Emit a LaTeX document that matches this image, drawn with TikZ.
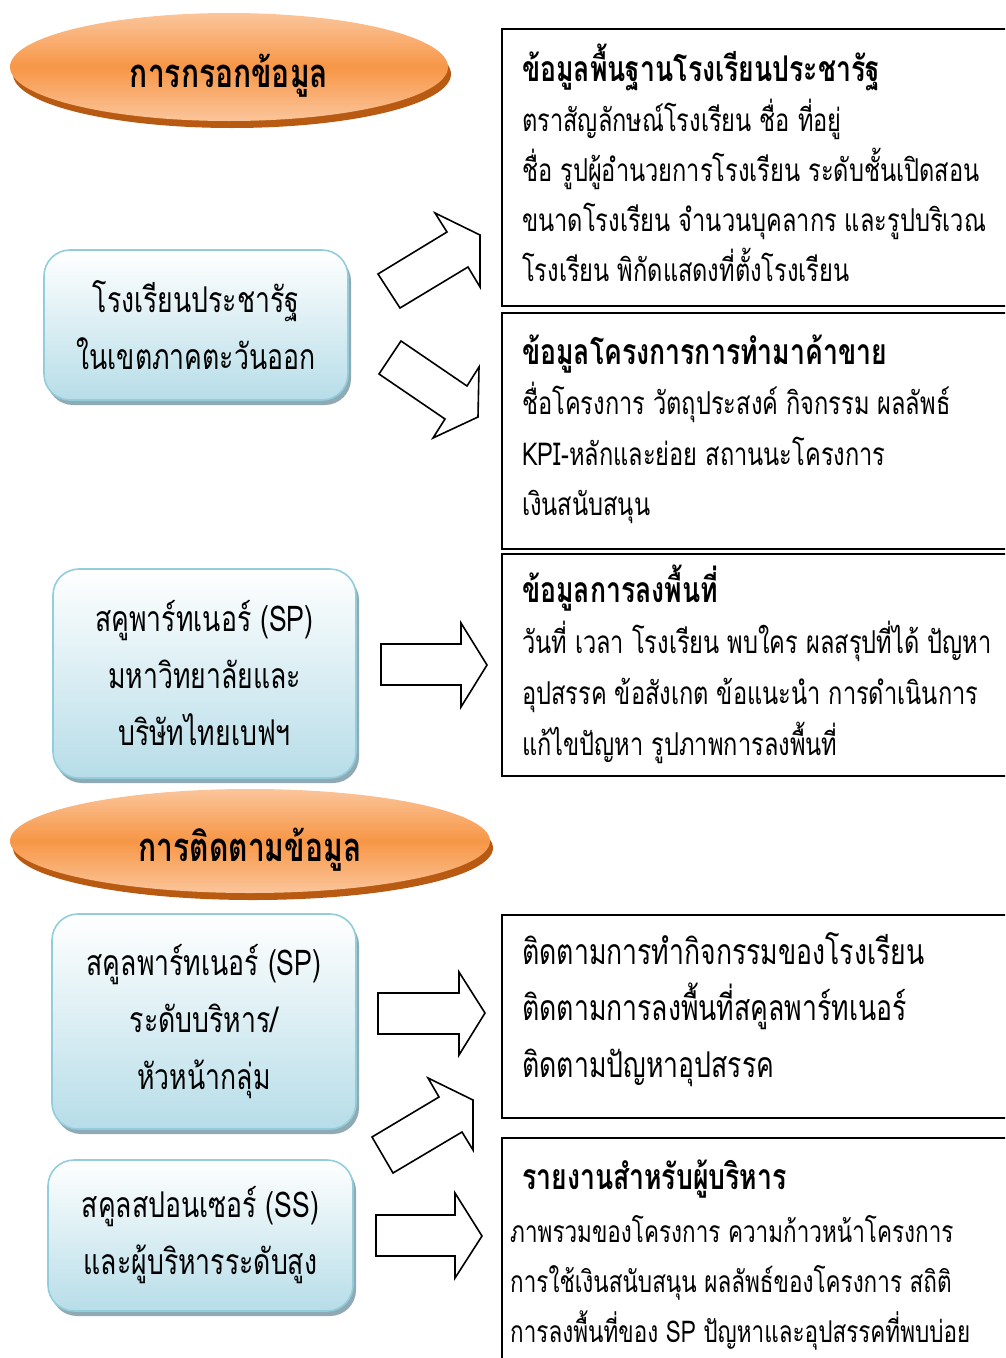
\documentclass[tikz,border=0pt]{standalone}
\usepackage{fontspec}
\setmainfont[Script=Thai,FakeStretch=0.75]{Loma}
\usetikzlibrary{shapes.geometric}
\definecolor{orangemid}{HTML}{F79646}
\definecolor{orangelight}{HTML}{FBC59B}
\definecolor{orangerim}{HTML}{B85A12}
\definecolor{bluelow}{HTML}{B7DDE8}
\definecolor{blueline}{HTML}{92CDDC}
\definecolor{blueshade}{HTML}{8FAAB4}
\newcommand{\headfont}{\fontsize{40}{48}\selectfont\bfseries}
\newcommand{\boxfont}{\fontsize{35.5}{57}\selectfont}
\newcommand{\bodyfont}{\fontsize{31.5}{50}\selectfont}
\newcommand{\titlefont}{\fontsize{35.5}{50}\selectfont\bfseries}
\tikzset{
  head/.style={ellipse, inner sep=0pt, top color=orangelight, bottom color=orangelight,
    middle color=orangemid},
  headrim/.style={ellipse, inner sep=0pt, fill=orangerim},
  headtext/.style={font=\headfont, inner sep=0pt, yshift=-9pt},
  schoolbox/.style={rectangle, rounded corners=26pt, draw=blueline, line width=1.6pt,
    top color=white, bottom color=bluelow, align=center, font=\boxfont, inner sep=0pt},
  boxshade/.style={rectangle, rounded corners=26pt, fill=blueshade, inner sep=0pt},
  infobox/.style={rectangle, draw=black, line width=2pt, fill=white, inner sep=0pt, anchor=north west},
  infoline/.style={anchor=base west, font=\bodyfont, inner sep=0pt},
  infotitle/.style={anchor=base west, font=\titlefont, inner sep=0pt},
  blockarrow/.style={draw=black, line width=1.6pt, fill=white, line join=miter}
}

\begin{document}
\begin{tikzpicture}[x=1pt,y=-1pt]
 \useasboundingbox (0,0) rectangle (1005,1358);
 \clip (0,0) rectangle (1005,1358);

 \node[headrim, minimum width=438pt, minimum height=108pt] (inputrim) at (232,74) {};
 \node[head, minimum width=438pt, minimum height=108pt] (inputhead) at (229,67) {};
 \node[headtext] (inputtitle) at (inputhead.center) {การกรอกข้อมูล};
 \node[headrim, minimum width=480pt, minimum height=104pt] (trackrim) at (253,848) {};
 \node[head, minimum width=480pt, minimum height=104pt] (trackhead) at (250,841) {};
 \node[headtext] (tracktitle) at (trackhead.center) {การติดตามข้อมูล};

 \node[boxshade, minimum width=304pt, minimum height=150pt] at (199,330) {};
 \node[schoolbox, minimum width=304pt, minimum height=150pt] (school) at (196,325)
   {โรงเรียนประชารัฐ\\ในเขตภาคตะวันออก};
 \node[boxshade, minimum width=303pt, minimum height=209pt] at (207.5,678.5) {};
 \node[schoolbox, minimum width=303pt, minimum height=209pt] (partner) at (204.5,673.5)
   {สคูพาร์ทเนอร์ (SP)\\มหาวิทยาลัยและ\\บริษัทไทยเบฟฯ};
 \node[boxshade, minimum width=304pt, minimum height=215pt] at (207,1026.5) {};
 \node[schoolbox, minimum width=304pt, minimum height=215pt] (manager) at (204,1021.5)
   {สคูลพาร์ทเนอร์ (SP)\\ระดับบริหาร/\\หัวหน้ากลุ่ม};
 \node[boxshade, minimum width=305pt, minimum height=151pt] at (203.5,1240.5) {};
 \node[schoolbox, minimum width=305pt, minimum height=151pt] (sponsor) at (200.5,1235.5)
   {สคูลสปอนเซอร์ (SS)\\และผู้บริหารระดับสูง};

 \node[infobox, minimum width=540pt, minimum height=277pt] (basic) at (501,28) {};
 \node[infobox, minimum width=540pt, minimum height=236pt] (project) at (501,312) {};
 \node[infobox, minimum width=540pt, minimum height=222pt] (field) at (501,553) {};
 \node[infobox, minimum width=540pt, minimum height=203pt] (track) at (501,914) {};
 \node[infobox, minimum width=540pt, minimum height=260pt] (report) at (501,1137) {};

 \node[infotitle] (basic0) at (522,81) {ข้อมูลพื้นฐานโรงเรียนประชารัฐ};
 \foreach \t [count=\i] in {{ตราสัญลักษณ์โรงเรียน ชื่อ ที่อยู่},
   {ชื่อ รูปผู้อำนวยการโรงเรียน ระดับชั้นเปิดสอน},
   {ขนาดโรงเรียน จำนวนบุคลากร และรูปบริเวณ}, {โรงเรียน พิกัดแสดงที่ตั้งโรงเรียน}}
   \node[infoline] (basic\i) at (522,{81+50*\i}) {\t};
 \node[infotitle] (project0) at (522,364) {ข้อมูลโครงการการทำมาค้าขาย};
 \foreach \t [count=\i] in {{ชื่อโครงการ วัตถุประสงค์ กิจกรรม ผลลัพธ์},
   {KPI-หลักและย่อย สถานนะโครงการ}, {เงินสนับสนุน}}
   \node[infoline] (project\i) at (522,{364+50.5*\i}) {\t};
 \node[infotitle] (field0) at (522,602) {ข้อมูลการลงพื้นที่};
 \foreach \t [count=\i] in {{วันที่ เวลา โรงเรียน พบใคร ผลสรุปที่ได้ ปัญหา},
   {อุปสรรค ข้อสังเกต ข้อแนะนำ การดำเนินการ}, {แก้ไขปัญหา รูปภาพการลงพื้นที่}}
   \node[infoline] (field\i) at (522,{602+51*\i}) {\t};
 \foreach \t [count=\i] in {{ติดตามการทำกิจกรรมของโรงเรียน},
   {ติดตามการลงพื้นที่สคูลพาร์ทเนอร์}, {ติดตามปัญหาอุปสรรค}}
   \node[infoline, font=\boxfont] (track\i) at (522,{964+56.5*(\i-1)}) {\t};
 \node[infotitle] (report0) at (522,1189) {รายงานสำหรับผู้บริหาร};
 \foreach \t [count=\i] in {{ภาพรวมของโครงการ ความก้าวหน้าโครงการ},
   {การใช้เงินสนับสนุน ผลลัพธ์ของโครงการ สถิติ}, {การลงพื้นที่ของ SP ปัญหาและอุปสรรคที่พบบ่อย}}
   \node[infoline, font=\fontsize{30}{50}\selectfont] (report\i) at (510,{1192+50*\i}) {\t};

 \draw[blockarrow] (378,274) -- (447,232) -- (435,213) -- (480,235) -- (480,287) -- (468,267) -- (400,308) -- cycle;
 \draw[blockarrow] (401,341) -- (467,386) -- (479,367) -- (478,417) -- (433,438) -- (445,419) -- (379,374) -- cycle;
 \draw[blockarrow] (381,644) -- (461,644) -- (461,623) -- (487,665) -- (461,707) -- (461,685) -- (381,685) -- cycle;
 \draw[blockarrow] (378,993) -- (459,993) -- (459,972) -- (485,1013) -- (459,1055) -- (459,1034) -- (378,1034) -- cycle;
 \draw[blockarrow] (372,1137) -- (439,1097) -- (428,1078) -- (473,1100) -- (473,1150) -- (462,1132) -- (393,1173) -- cycle;
 \draw[blockarrow] (376,1215) -- (455,1215) -- (455,1193) -- (482,1236) -- (455,1278) -- (455,1256) -- (376,1256) -- cycle;

\end{tikzpicture}
\end{document}
